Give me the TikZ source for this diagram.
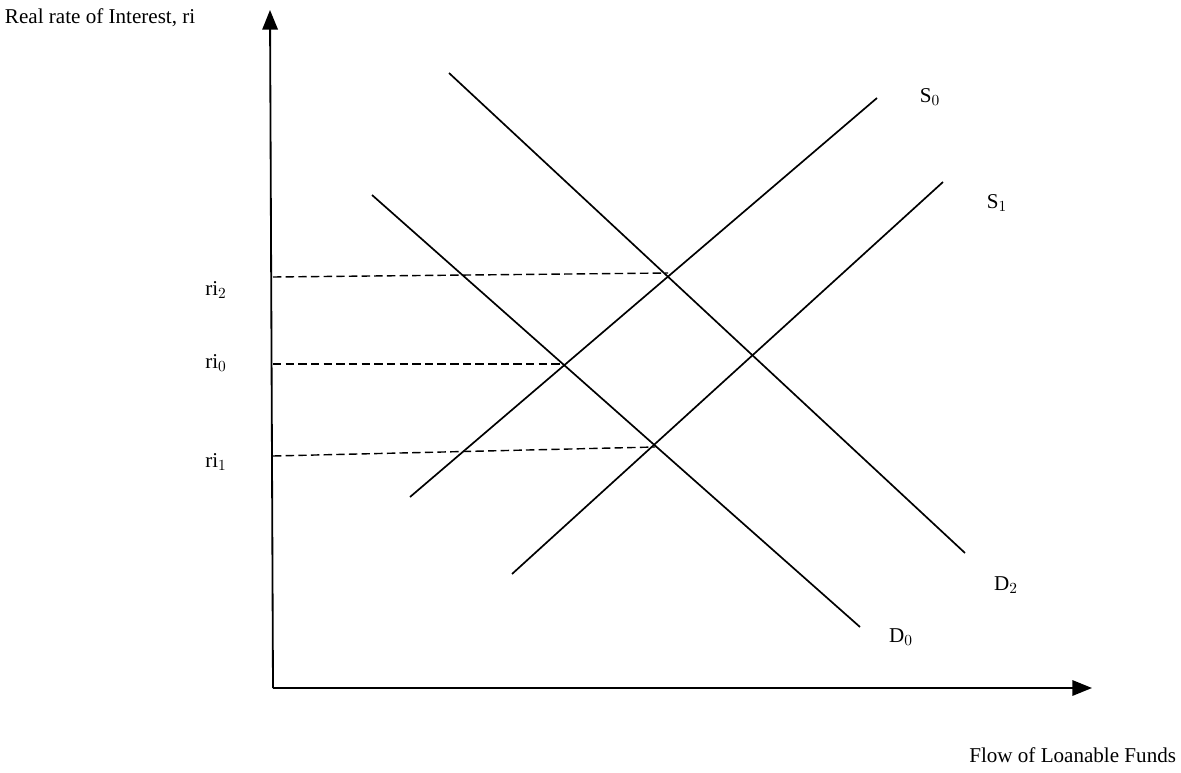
\documentclass[tikz,border=0pt]{standalone}
\usepackage{fontspec}
\setmainfont{Liberation Serif}
\usetikzlibrary{arrows.meta}

\begin{document}
\begin{tikzpicture}[
     x=0.25mm,y=-0.25mm,
     curve/.style={line width=1.2pt},
     guide/.style={line width=1pt,dashed,dash pattern=on 6pt off 3pt},
     axis/.style={line width=1.3pt,-{Triangle[length=14pt,width=11pt]}},
     lbl/.style={font=\fontsize{15}{18}\selectfont}
   ]
   \path[use as bounding box] (0,0) rectangle (1181,773);
   % Axes.
   \coordinate (O) at (273,688);
   \coordinate (ytop) at (270,10);
   \coordinate (xend) at (1092,688);
   \draw[axis] (O) -- (ytop);
   \draw[axis] (O) -- (xend);
   \node[lbl,anchor=west] (ylab) at (0,18) {Real rate of Interest, ri};
   \node[lbl,anchor=east] (xlab) at (1181,755) {Flow of Loanable Funds};
   % Supply and demand.
   \coordinate (s0a) at (410,497); \coordinate (s0b) at (877,98);
   \coordinate (s1a) at (512,574); \coordinate (s1b) at (943,182);
   \coordinate (d2a) at (449,73);  \coordinate (d2b) at (965,553);
   \coordinate (d0a) at (372,195); \coordinate (d0b) at (860,627);
   \draw[curve] (s0a) -- (s0b);
   \draw[curve] (s1a) -- (s1b);
   \draw[curve] (d2a) -- (d2b);
   \draw[curve] (d0a) -- (d0b);
   \node[lbl] (s0) at (930,97) {$\mathrm{S}_0$};
   \node[lbl] (s1) at (997,203) {$\mathrm{S}_1$};
   \node[lbl] (d2) at (1006,585) {$\mathrm{D}_2$};
   \node[lbl] (d0) at (901,637) {$\mathrm{D}_0$};
   % Equilibrium rates.
   \coordinate (e2) at (668,273);
   \coordinate (e0) at (563,364);
   \coordinate (e1) at (655,447);
   \coordinate (a2) at (273,277);
   \coordinate (a0) at (273,364);
   \coordinate (a1) at (273,456);
   \draw[guide] (a2) -- (e2);
   \draw[guide] (a0) -- (e0);
   \draw[guide] (a1) -- (e1);
   \node[lbl] (ri2) at (216,290) {$\mathrm{ri}_2$};
   \node[lbl] (ri0) at (216,363) {$\mathrm{ri}_0$};
   \node[lbl] (ri1) at (216,462) {$\mathrm{ri}_1$};
 \end{tikzpicture}
\end{document}
